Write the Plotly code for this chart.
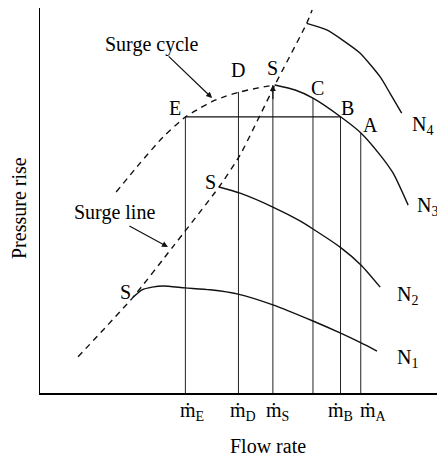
import plotly.graph_objects as go

# ---- data (arbitrary units: flow rate 0-100, pressure rise 0-100) ----
flow_points = ["E", "D", "S", "C", "B", "A"]
flow_x = [35.9, 49.0, 57.5, 67.4, 74.2, 79.2]
flow_top = [71.7, 78.2, 80.0, 76.6, 71.7, 67.5]
tick_points = ["E", "D", "S", "B", "A"]
tick_x = [35.9, 49.0, 57.5, 74.2, 79.2]

n1_x = [23.0, 25.2, 27.7, 30.4, 35.8, 42.0, 48.9, 57.5, 67.4, 74.1, 79.3, 83.2]
n1_y = [24.9, 26.8, 27.5, 27.8, 27.3, 26.8, 25.7, 22.9, 18.7, 15.6, 13.0, 10.9]

n2_x = [44.2, 49.4, 57.5, 64.2, 67.4, 74.1, 79.3, 84.0]
n2_y = [53.5, 51.9, 48.3, 44.7, 42.6, 37.9, 33.2, 27.5]

n3_x = [58.0, 63.0, 67.4, 74.3, 79.3, 84.0, 87.2, 90.9]
n3_y = [80.0, 78.7, 76.6, 71.7, 67.5, 61.8, 57.1, 48.8]

n4_x = [65.85, 70.8, 74.8, 79.0, 84.0, 86.4, 89.3]
n4_y = [96.0, 94.3, 91.6, 88.3, 82.1, 77.9, 72.7]

surge_line_x = [9.4, 23.0, 32.6, 44.2, 49.4, 58.0, 65.85, 67.2]
surge_line_y = [9.4, 24.9, 37.7, 53.5, 61.8, 80.0, 96.0, 99.5]

surge_cycle_x = [18.8, 24.7, 30.4, 35.9, 39.5, 42.7, 45.9, 49.4, 53.6, 58.0]
surge_cycle_y = [52.2, 59.7, 66.5, 71.7, 74.0, 75.8, 77.1, 78.2, 79.2, 80.0]

FONT = "Liberation Serif"
FS = 20

# the page body has an 8px default margin, so the figure is sized to fit the window
W, H = 437, 456
L, R, T, B = 32, 0, 0, 71
# plot area in page pixels
PL, PT = 40, 8
pw, ph = W - L - R, H - T - B
PB = PT + ph

def px2paper(x, y):
    return (x - PL) / pw, (PB - y) / ph

fig = go.Figure()

# vertical drop lines from each operating point to the flow axis
vx, vy = [], []
for x, top in zip(flow_x, flow_top):
    vx += [x, x, None]
    vy += [0, top, None]
fig.add_trace(go.Scatter(x=vx, y=vy, mode="lines",
                         line=dict(color="#222", width=1), hoverinfo="skip"))

# horizontal E-B line
iE, iB = flow_points.index("E"), flow_points.index("B")
fig.add_trace(go.Scatter(x=[flow_x[iE], flow_x[iB]], y=[flow_top[iE], flow_top[iB]],
                         mode="lines", line=dict(color="#111", width=1.3), hoverinfo="skip"))

# speed characteristics
for xs, ys in [(n1_x, n1_y), (n2_x, n2_y), (n3_x, n3_y), (n4_x, n4_y)]:
    fig.add_trace(go.Scatter(x=xs, y=ys, mode="lines",
                             line=dict(color="#111", width=1.4, shape="spline", smoothing=0.6),
                             hoverinfo="skip"))

# surge line and surge cycle (dashed)
fig.add_trace(go.Scatter(x=surge_line_x, y=surge_line_y, mode="lines",
                         line=dict(color="#111", width=1.4, dash="6px,5px", shape="spline", smoothing=0.5),
                         hoverinfo="skip"))
fig.add_trace(go.Scatter(x=surge_cycle_x, y=surge_cycle_y, mode="lines",
                         line=dict(color="#111", width=1.4, dash="6px,5px", shape="spline", smoothing=0.6),
                         hoverinfo="skip"))

ann = []
def txt(x, y, t, xanchor="center", size=FS):
    ann.append(dict(x=x, y=y, xref="x", yref="y", text=t, showarrow=False,
                    xanchor=xanchor, yanchor="middle",
                    font=dict(family=FONT, size=size, color="black")))

txt(27.7, 90.4, "Surge cycle")
txt(18.4, 47.0, "Surge line")
txt(33.3, 74.0, "E")
txt(48.9, 83.9, "D")
txt(57.5, 84.4, "S")
txt(68.6, 79.2, "C")
txt(76.0, 74.0, "B")
txt(81.5, 69.6, "A")
txt(42.0, 54.8, "S")
txt(21.0, 26.2, "S")
txt(91.4, 69.4, "N<sub>4</sub>", xanchor="left")
txt(92.6, 48.4, "N<sub>3</sub>", xanchor="left")
txt(87.7, 25.2, "N<sub>2</sub>", xanchor="left")
txt(87.7, 8.9, "N<sub>1</sub>", xanchor="left")

# flow-rate labels under the axis, anchored at each marked flow value
label_shift = [7, 5, 5, 0, 13]
_, ty = px2paper(0, 411)
for xv, p, sh in zip(tick_x, tick_points, label_shift):
    ann.append(dict(x=xv, y=ty, xref="x", yref="paper", text="ṁ<sub>%s</sub>" % p,
                    showarrow=False, xanchor="center", yanchor="middle", xshift=sh,
                    font=dict(family=FONT, size=FS, color="black")))

# arrows
def arrow(x, y, ax, ay, head=2, size=1.0):
    ann.append(dict(x=x, y=y, ax=ax, ay=ay, xref="x", yref="y", axref="x", ayref="y",
                    text="", showarrow=True, arrowhead=head, arrowsize=size,
                    arrowwidth=1.2, arrowcolor="#111"))

arrow(42.5, 76.6, 31.4, 87.8)
arrow(31.6, 37.9, 21.7, 43.6)
iS = flow_points.index("S")
arrow(flow_x[iS], flow_top[iS], flow_x[iS], flow_top[iS] - 4)

# axis titles
fx, fy = px2paper(268, 446)
ann.append(dict(x=fx, y=fy, xref="paper", yref="paper", text="Flow rate", showarrow=False,
                xanchor="center", yanchor="middle",
                font=dict(family=FONT, size=FS, color="black")))
px_, py_ = px2paper(19, 208)
ann.append(dict(x=px_, y=py_, xref="paper", yref="paper", text="Pressure rise",
                showarrow=False, textangle=-90, xanchor="center", yanchor="middle",
                font=dict(family=FONT, size=FS, color="black")))

fig.update_layout(
    width=W, height=H, margin=dict(l=L, r=R, t=T, b=B, autoexpand=False),
    paper_bgcolor="white", plot_bgcolor="white", showlegend=False,
    annotations=ann,
    xaxis=dict(range=[0, 100], showgrid=False, zeroline=False, showline=True,
               linecolor="black", linewidth=2, ticks="", showticklabels=False,
               automargin=False, fixedrange=True),
    yaxis=dict(range=[0, 100], showgrid=False, zeroline=False, showline=True, automargin=False,
               linecolor="black", linewidth=1, showticklabels=False, ticks="", fixedrange=True),
)

fig.write_html("out.html")
